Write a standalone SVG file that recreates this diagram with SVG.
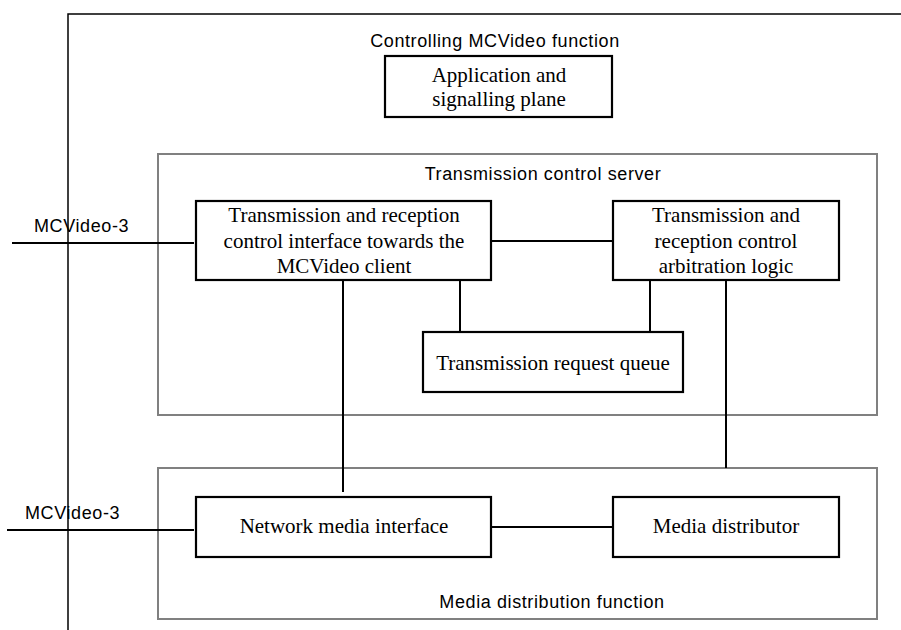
<svg xmlns="http://www.w3.org/2000/svg" width="901" height="630" viewBox="0 0 901 630">
<style>
.box{fill:#fff;stroke:#000;stroke-width:2.2}
.grp{fill:none;stroke:#808080;stroke-width:2}
.ln{stroke:#000;stroke-width:2;fill:none}
.thin{stroke:#000;stroke-width:1.5;fill:none}
.ser{font-family:"Liberation Serif","Times New Roman",serif;font-size:21px;fill:#000;text-anchor:middle}
.san{font-family:"Liberation Sans",Arial,sans-serif;font-size:18px;letter-spacing:0.6px;fill:#000}
</style>
<rect width="901" height="630" fill="#fff"/>
<g id="frame">
<path class="thin" d="M901 14H68V630"/>
<text class="san" x="495" y="47" text-anchor="middle">Controlling MCVideo function</text>
</g>
<g id="tcs">
<rect class="grp" x="158" y="154" width="719" height="261"/>
<text class="san" x="543" y="180" text-anchor="middle">Transmission control server</text>
</g>
<g id="mdf">
<rect class="grp" x="158" y="468" width="719" height="151"/>
<text class="san" x="552" y="608" text-anchor="middle">Media distribution function</text>
</g>
<g id="connectors">
<line class="ln" x1="491" y1="241" x2="613" y2="241"/>
<line class="ln" x1="460" y1="280" x2="460" y2="332"/>
<line class="ln" x1="650" y1="280" x2="650" y2="332"/>
<line class="ln" x1="343" y1="280" x2="343" y2="492"/>
<line class="ln" x1="726" y1="280" x2="726" y2="468"/>
<line class="ln" x1="491" y1="527" x2="613" y2="527"/>
<line class="ln" x1="12" y1="243" x2="194" y2="243"/>
<line class="ln" x1="7" y1="530" x2="194" y2="530"/>
</g>
<g id="mcv3top"><text class="san" x="34" y="232">MCVideo-3</text></g>
<g id="mcv3bot"><text class="san" x="25" y="519">MCVideo-3</text></g>
<g id="app">
<rect class="box" x="385" y="56" width="227" height="61"/>
<text class="ser" x="499" y="82">Application and</text>
<text class="ser" x="499" y="106">signalling plane</text>
</g>
<g id="trci">
<rect class="box" x="196" y="201" width="295" height="79"/>
<text class="ser" x="344" y="222">Transmission and reception</text>
<text class="ser" x="344" y="248">control interface towards the</text>
<text class="ser" x="344" y="273">MCVideo client</text>
</g>
<g id="arb">
<rect class="box" x="613" y="201" width="226" height="79"/>
<text class="ser" x="726" y="222">Transmission and</text>
<text class="ser" x="726" y="248">reception control</text>
<text class="ser" x="726" y="273">arbitration logic</text>
</g>
<g id="queue">
<rect class="box" x="423" y="332" width="260" height="60"/>
<text class="ser" x="553" y="370">Transmission request queue</text>
</g>
<g id="nmi">
<rect class="box" x="196" y="497" width="295" height="60"/>
<text class="ser" x="344" y="533">Network media interface</text>
</g>
<g id="md">
<rect class="box" x="613" y="497" width="226" height="60"/>
<text class="ser" x="726" y="533">Media distributor</text>
</g>
</svg>
